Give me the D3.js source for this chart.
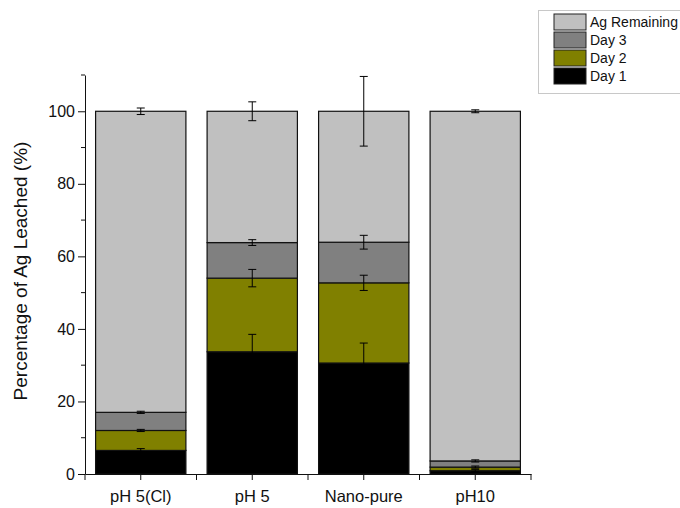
<!DOCTYPE html>
<html>
<head>
<meta charset="utf-8">
<script src="https://cdn.jsdelivr.net/npm/d3@7"></script>
<style>
  body { margin: 0; background: #fff; }
  text { font-family: "Liberation Sans", Arial, sans-serif; }
</style>
</head>
<body>
<div id="chart"></div>
<script>
// categories and stacked series (per-segment %, bottom to top)
const categories = ['pH 5(Cl)', 'pH 5', 'Nano-pure', 'pH10']
const seriesNames = ['Day 1', 'Day 2', 'Day 3', 'Ag Remaining']
const day1 = [6.5, 33.7, 30.6, 0.9]
const day2 = [5.5, 20.3, 22.1, 1.0]
const day3 = [5.0, 9.8, 11.2, 1.7]
const remaining = [83.0, 36.2, 36.1, 96.4]
// error bar half-widths, drawn at the top of each segment
const errDay1 = [0.5, 4.8, 5.5, 0.3]
const errDay2 = [0.3, 2.4, 2.1, 0.3]
const errDay3 = [0.3, 0.8, 1.9, 0.3]
const errRemaining = [0.9, 2.6, 9.6, 0.4]
const yTicks = [0, 20, 40, 60, 80, 100]
const yMinorTicks = [10, 30, 50, 70, 90, 110]

const COLORS = ['#000000', '#808000', '#808080', '#c0c0c0']
const WIDTH = 680
const HEIGHT = 508
const LEFT = 85
const RIGHT = 531
const TOP = 75
const BOTTOM = 474

const svg = d3.select('#chart').append('svg')
  .attr('width', WIDTH)
  .attr('height', HEIGHT)

const x = d3.scaleBand()
  .domain(categories)
  .range([LEFT, RIGHT])
  .paddingInner(0.19)
  .paddingOuter(0.095)

const y = d3.scaleLinear()
  .domain([0, 110])
  .range([BOTTOM, TOP])

const values = [day1, day2, day3, remaining]
const errors = [errDay1, errDay2, errDay3, errRemaining]

const rows = categories.map((c, i) => {
  const r = {cat: c}
  seriesNames.forEach((s, k) => { r[s] = values[k][i] })
  return r
})
const stacked = d3.stack().keys(seriesNames)(rows)

// bars
const layers = svg.append('g').selectAll('g')
  .data(stacked)
  .join('g')
  .attr('fill', (d, k) => COLORS[k])

layers.selectAll('rect')
  .data(d => d)
  .join('rect')
  .attr('x', d => x(d.data.cat))
  .attr('y', d => y(d[1]))
  .attr('width', x.bandwidth())
  .attr('height', d => y(d[0]) - y(d[1]))
  .attr('stroke', '#111')
  .attr('stroke-width', 1.2)

// error bars
const errG = svg.append('g')
  .attr('stroke', '#000')
  .attr('stroke-width', 1)
stacked.forEach((layer, k) => {
  layer.forEach((d, i) => {
    const cx = x(d.data.cat) + x.bandwidth() / 2
    const top = d[1]
    const e = errors[k][i]
    errG.append('line')
      .attr('x1', cx).attr('x2', cx)
      .attr('y1', y(top + e)).attr('y2', y(top - e))
    ;[top + e, top - e].forEach(v => {
      errG.append('line')
        .attr('x1', cx - 4).attr('x2', cx + 4)
        .attr('y1', y(v)).attr('y2', y(v))
    })
  })
})

// y axis
const yAxisG = svg.append('g')
  .attr('transform', `translate(${LEFT},0)`)
  .call(d3.axisLeft(y).tickValues(yTicks).tickSize(7).tickSizeOuter(0).tickPadding(3))
yAxisG.selectAll('text').attr('font-size', '16px').attr('fill', '#111')
yAxisG.select('.domain').attr('stroke', '#111')
yAxisG.selectAll('.tick line').attr('stroke', '#111')
yAxisG.selectAll('.minor')
  .data(yMinorTicks)
  .join('line')
  .attr('class', 'minor')
  .attr('x1', -4).attr('x2', 0)
  .attr('y1', d => y(d)).attr('y2', d => y(d))
  .attr('stroke', '#111')

// x axis
const xAxisG = svg.append('g')
  .attr('transform', `translate(0,${BOTTOM})`)
  .call(d3.axisBottom(x).tickSize(6).tickSizeOuter(0).tickPadding(10))
xAxisG.selectAll('text').attr('font-size', '16.5px').attr('fill', '#111')
xAxisG.select('.domain').attr('stroke', '#111')
xAxisG.selectAll('.tick line').attr('stroke', '#111')
// ticks at category boundaries
const bounds = d3.range(categories.length + 1).map(i => LEFT + i * x.step())
xAxisG.selectAll('.bound')
  .data(bounds)
  .join('line')
  .attr('class', 'bound')
  .attr('x1', d => d).attr('x2', d => d)
  .attr('y1', 0).attr('y2', 6)
  .attr('stroke', '#111')

// y title
svg.append('text')
  .attr('transform', 'translate(27,271) rotate(-90)')
  .attr('text-anchor', 'middle')
  .attr('font-size', '19px')
  .attr('fill', '#111')
  .text('Percentage of Ag Leached (%)')

// legend
const legend = svg.append('g')
legend.append('rect')
  .attr('x', 538.5).attr('y', 10.5)
  .attr('width', 160).attr('height', 83)
  .attr('fill', '#fff')
  .attr('stroke', '#c8c8c8')
const legendOrder = [3, 2, 1, 0]
legendOrder.forEach((k, j) => {
  legend.append('rect')
    .attr('x', 554).attr('y', 14 + j * 18)
    .attr('width', 32).attr('height', 16)
    .attr('fill', COLORS[k])
    .attr('stroke', '#222')
  legend.append('text')
    .attr('x', 590).attr('y', 27 + j * 18)
    .attr('font-size', '14px')
    .attr('fill', '#111')
    .text(seriesNames[k])
})
</script>
</body>
</html>
